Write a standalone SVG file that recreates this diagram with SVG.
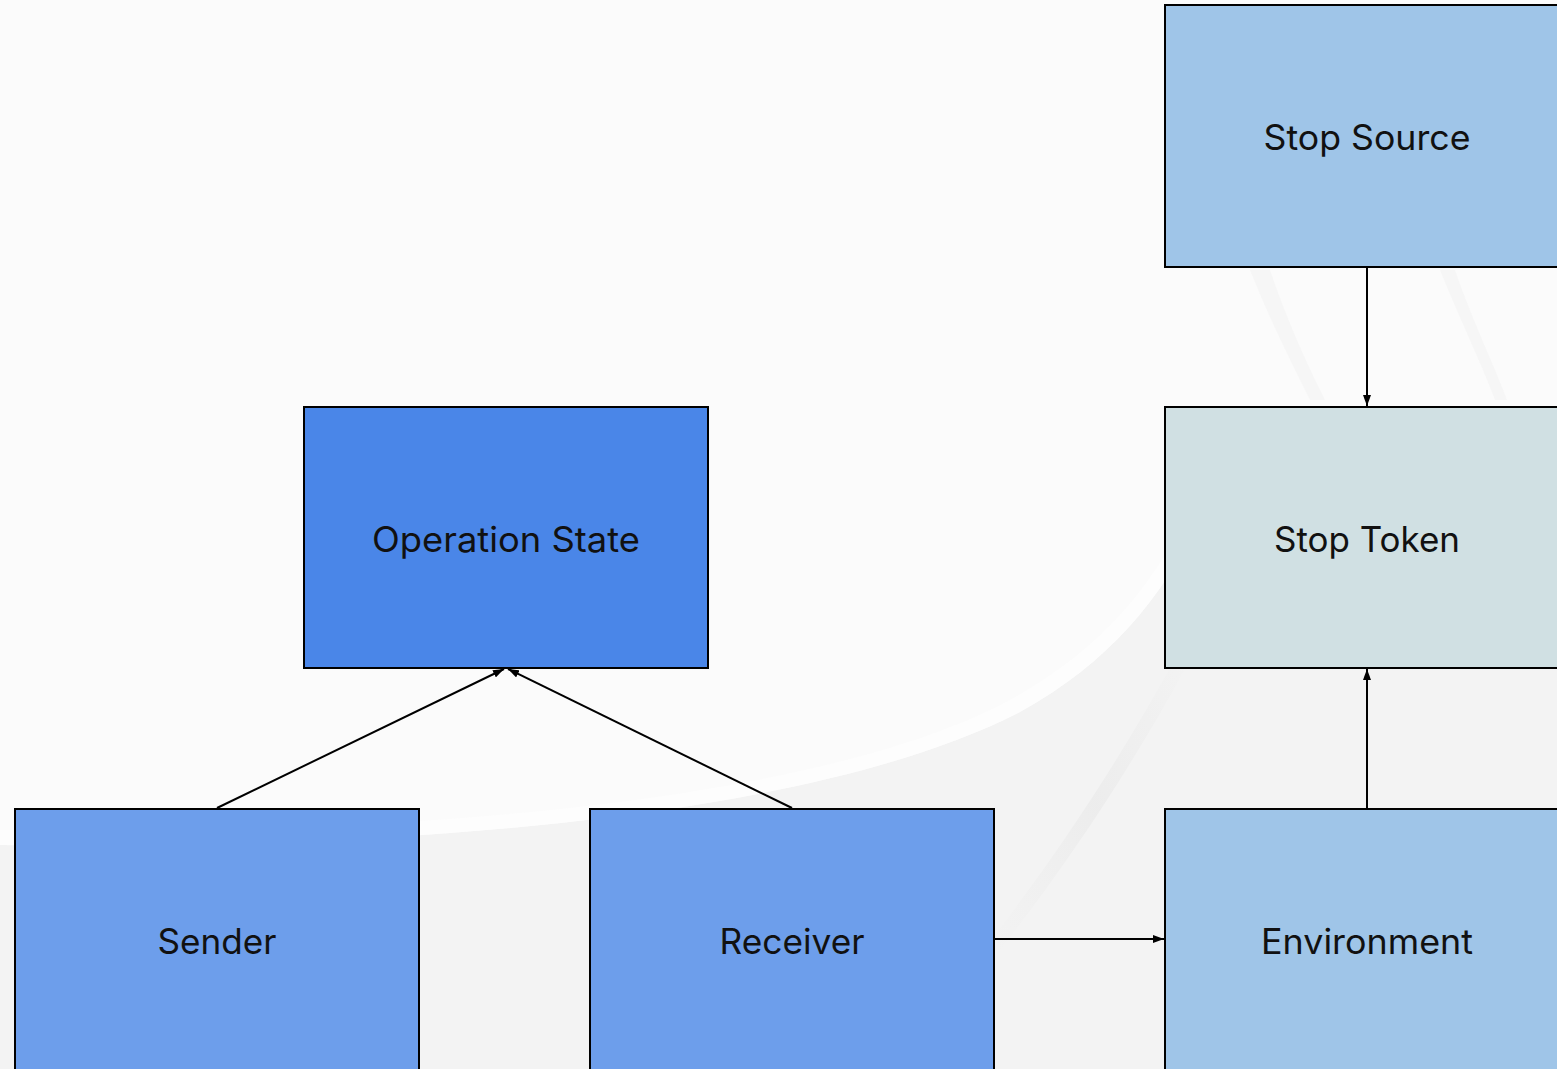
<svg xmlns="http://www.w3.org/2000/svg" width="1557" height="1069" viewBox="0 0 1557 1069">
  <defs>
    <marker id="arrow" viewBox="0 0 11 8" refX="11" refY="4" markerWidth="11" markerHeight="8" markerUnits="userSpaceOnUse" orient="auto">
      <path d="M0,0 L11,4 L0,8 Z" fill="#000"/>
    </marker>
    <linearGradient id="streak" x1="0" y1="1" x2="1" y2="0">
      <stop offset="0" stop-color="#e8e8e8" stop-opacity="0"/>
      <stop offset="0.5" stop-color="#e8e8e8" stop-opacity="0.6"/>
      <stop offset="1" stop-color="#e8e8e8" stop-opacity="0"/>
    </linearGradient>
  </defs>
  <style>
    .box { stroke: #000; stroke-width: 2; }
    .label { font-family: Inter, "Liberation Sans", sans-serif; font-size: 35px; fill: #111; text-anchor: middle; }
    .edge { fill: none; stroke: #000; stroke-width: 2; marker-end: url(#arrow); }
  </style>

  <!-- backdrop with soft swooshes -->
  <g id="backdrop">
    <rect x="0" y="0" width="1557" height="1069" fill="#fbfbfb"/>
    <path d="M0,845 C500,852 850,800 1020,712 C1110,662 1160,600 1200,520 L1557,520 L1557,1069 L0,1069 Z" fill="#f3f3f3"/>
    <path d="M0,830 C500,838 850,786 1010,700 C1100,650 1150,590 1190,510 L1200,520 C1160,600 1110,662 1020,712 C850,800 500,852 0,845 Z" fill="#fdfdfd"/>
    <path d="M995,935 C1060,850 1120,760 1180,650 L1190,660 C1130,770 1070,860 1000,950 Z" fill="url(#streak)"/>
    <path d="M1250,270 C1270,320 1290,360 1310,400 L1325,400 C1305,360 1287,320 1270,270 Z" fill="#f4f4f4" opacity="0.6"/>
    <path d="M1440,270 C1460,320 1480,360 1495,400 L1507,400 C1492,360 1472,320 1455,270 Z" fill="#f4f4f4" opacity="0.6"/>
  </g>

  <!-- connectors -->
  <g id="connectors">
    <line class="edge" x1="217" y1="808" x2="504" y2="669"/>
    <line class="edge" x1="792" y1="808" x2="508" y2="669"/>
    <line class="edge" x1="1367" y1="267" x2="1367" y2="406"/>
    <line class="edge" x1="1367" y1="808" x2="1367" y2="669"/>
    <line class="edge" x1="994" y1="939" x2="1164" y2="939"/>
  </g>

  <g id="operation-state">
    <rect class="box" x="304" y="407" width="404" height="261" fill="#4a86e8"/>
    <text class="label" x="506" y="552" textLength="268" lengthAdjust="spacingAndGlyphs">Operation State</text>
  </g>

  <g id="sender">
    <rect class="box" x="15" y="809" width="404" height="270" fill="#6d9eeb"/>
    <text class="label" x="217" y="954" textLength="119" lengthAdjust="spacingAndGlyphs">Sender</text>
  </g>

  <g id="receiver">
    <rect class="box" x="590" y="809" width="404" height="270" fill="#6d9eeb"/>
    <text class="label" x="792" y="954" textLength="145" lengthAdjust="spacingAndGlyphs">Receiver</text>
  </g>

  <g id="stop-source">
    <rect class="box" x="1165" y="5" width="404" height="262" fill="#9fc5e8"/>
    <text class="label" x="1367" y="150" textLength="207" lengthAdjust="spacingAndGlyphs">Stop Source</text>
  </g>

  <g id="stop-token">
    <rect class="box" x="1165" y="407" width="404" height="261" fill="#d0e0e3"/>
    <text class="label" x="1367" y="552" textLength="186" lengthAdjust="spacingAndGlyphs">Stop Token</text>
  </g>

  <g id="environment">
    <rect class="box" x="1165" y="809" width="404" height="270" fill="#9fc5e8"/>
    <text class="label" x="1367" y="954" textLength="212" lengthAdjust="spacingAndGlyphs">Environment</text>
  </g>
</svg>
